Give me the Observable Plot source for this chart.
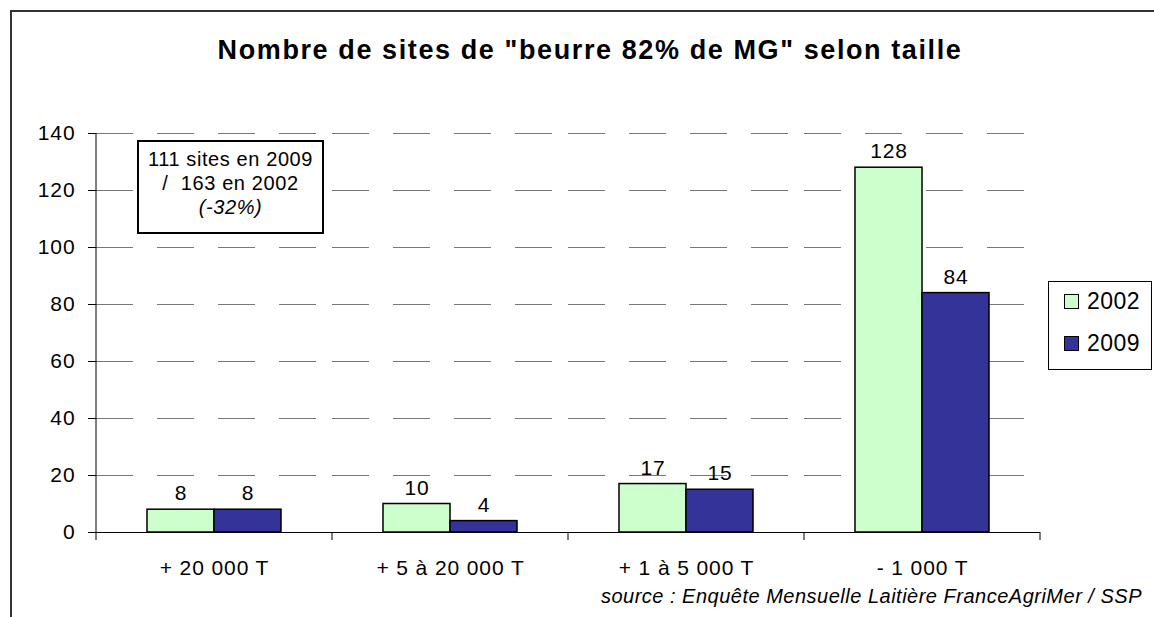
<!DOCTYPE html>
<html>
<head>
<meta charset="utf-8">
<script src="https://cdn.jsdelivr.net/npm/d3@7"></script>
<script src="https://cdn.jsdelivr.net/npm/@observablehq/plot@0.6"></script>
<style>
  html, body { margin: 0; padding: 0; background: #fff; }
  #wrap { position: relative; width: 1154px; height: 617px; overflow: hidden; font-family: "Liberation Sans", Arial, sans-serif; color: #000; }
  #frame { position: absolute; left: 10px; top: 10px; width: 1200px; height: 700px; border-left: 2px solid #333; border-top: 2px solid #333; }
  #chart { position: absolute; left: 0; top: 0; }
  #title { position: absolute; left: 590px; top: 34px; transform: translateX(-50%); white-space: nowrap; font-weight: bold; font-size: 27px; letter-spacing: 1.6px; line-height: 32px; }
  #note { position: absolute; left: 137px; top: 140px; width: 183px; height: 85px; border: 2px solid #000; background: #fff; text-align: center; font-size: 20px; letter-spacing: 0.6px; line-height: 24px; padding-top: 5px; box-sizing: content-box; white-space: pre; }
  #legend { position: absolute; left: 1048px; top: 281px; width: 102px; height: 87px; border: 1px solid #000; background: #fff; font-size: 23px; letter-spacing: 0.5px; }
  .item { position: absolute; left: 15px; display: flex; align-items: center; }
  .sw { width: 13px; height: 13px; border: 1px solid #000; margin-right: 8px; }
  #source { position: absolute; right: 12px; top: 585px; font-style: italic; font-size: 20px; letter-spacing: 0.5px; white-space: nowrap; }
  #chart svg text { letter-spacing: 0.9px; }
</style>
</head>
<body>
<div id="wrap">
  <div id="frame"></div>
  <div id="chart"></div>
  <div id="title"></div>
  <div id="note"></div>
  <div id="legend"></div>
  <div id="source"></div>
</div>
<script>
const titleText = 'Nombre de sites de "beurre 82% de MG" selon taille';
const categories = ["+ 20 000 T", "+ 5 à 20 000 T", "+ 1 à 5 000 T", "- 1 000 T"];
const years = ["2002", "2009"];
const values2002 = [8, 10, 17, 128];
const values2009 = [8, 4, 15, 84];
const yTicks = [0, 20, 40, 60, 80, 100, 120, 140];
const colors = ["#CCFFCC", "#333399"];
const noteLines = ["111 sites en 2009", "/  163 en 2002", "(-32%)"];
const sourceText = "source : Enquête Mensuelle Laitière FranceAgriMer /  SSP";

const data = categories.flatMap((c, i) => [
  {cat: c, year: years[0], value: values2002[i]},
  {cat: c, year: years[1], value: values2009[i]}
]);

const plot = Plot.plot({
  width: 1154,
  height: 617,
  marginTop: 133,
  marginBottom: 85,
  marginLeft: 96,
  marginRight: 114,
  style: {fontFamily: "'Liberation Sans', Arial, sans-serif", fontSize: "21px", background: "transparent", color: "#000", overflow: "visible"},
  fx: {domain: categories, padding: 0, label: null},
  x: {domain: years, paddingInner: 0, paddingOuter: 0.76, axis: null},
  y: {domain: [0, 140], label: null},
  color: {domain: years, range: colors},
  marks: [
    Plot.gridY(yTicks.filter(t => t > 0), {stroke: "#777", strokeOpacity: 1, strokeWidth: 1, strokeDasharray: "37,24"}),
    Plot.barY(data, {fx: "cat", x: "year", y: "value", fill: "year", stroke: "#000", strokeWidth: 1.5}),
    Plot.ruleY([0], {stroke: "#000", strokeWidth: 1}),
    Plot.text(data, {fx: "cat", x: "year", y: "value", text: d => String(d.value), dy: -16, fontSize: 21}),
    Plot.axisY(yTicks, {tickSize: 8, tickPadding: 13, label: null, fontSize: 21}),
    Plot.axisFx({anchor: "bottom", tickSize: 0, tickPadding: 28, label: null, fontSize: 21})
  ]
});

document.getElementById("chart").appendChild(plot);

// Axis line and category boundary ticks from the library's scales
const fx = plot.scale("fx");
const ys = plot.scale("y");
const svg = d3.select(plot);
const g = svg.append("g").attr("stroke", "#000").attr("stroke-width", 1);
const x0 = fx.apply(categories[0]);
g.append("line").attr("x1", x0).attr("x2", x0).attr("y1", ys.apply(140)).attr("y2", ys.apply(0));
const bounds = categories.map(c => fx.apply(c)).concat([fx.apply(categories[categories.length - 1]) + fx.bandwidth]);
bounds.forEach(b => {
  g.append("line").attr("x1", b).attr("x2", b).attr("y1", ys.apply(0)).attr("y2", ys.apply(0) + 8);
});

document.getElementById("title").textContent = titleText;
const note = document.getElementById("note");
noteLines.forEach((t, i) => {
  const d = document.createElement("div");
  d.textContent = t;
  if (i === 2) d.style.fontStyle = "italic";
  note.appendChild(d);
});
const legend = document.getElementById("legend");
years.forEach((yv, i) => {
  const it = document.createElement("div");
  it.className = "item";
  it.style.top = (i === 0 ? 6 : 48) + "px";
  const sw = document.createElement("div");
  sw.className = "sw";
  sw.style.background = colors[i];
  const tx = document.createElement("span");
  tx.textContent = yv;
  it.appendChild(sw);
  it.appendChild(tx);
  legend.appendChild(it);
});
document.getElementById("source").textContent = sourceText;
</script>
</body>
</html>
